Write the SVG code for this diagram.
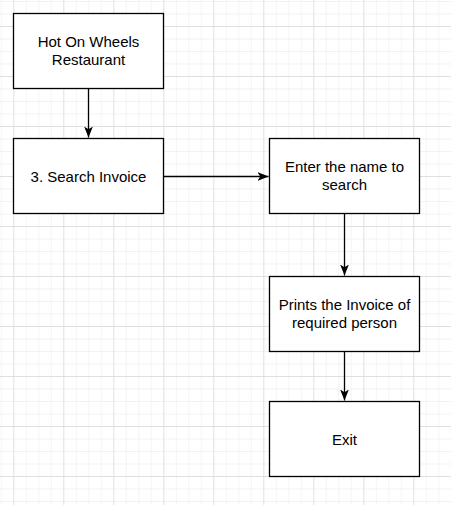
<svg xmlns="http://www.w3.org/2000/svg" width="451" height="505" viewBox="0 0 451 505">
<defs>
<pattern id="minor" x="13.3" y="1" width="12.5" height="12.5" patternUnits="userSpaceOnUse">
<path d="M0 0V12.5M0 0H12.5" fill="none" stroke="#eeeeee" stroke-width="1.25"/>
</pattern>
<pattern id="major" x="13.3" y="26" width="50" height="50" patternUnits="userSpaceOnUse">
<path d="M0 0V50M0 0H50" fill="none" stroke="#d9d9d9" stroke-width="1.25"/>
</pattern>
<marker id="arr" viewBox="0 0 10 10" refX="10" refY="5" markerWidth="11" markerHeight="11" markerUnits="userSpaceOnUse" orient="auto">
<path d="M0 1L10 5L0 9L2.5 5Z" fill="#000"/>
</marker>
</defs>
<style>
.box{fill:#fff;stroke:#000;stroke-width:1.3}
.lbl{font-family:"Liberation Sans",Arial,sans-serif;font-size:15px;fill:#000;text-anchor:middle}
.edge{fill:none;stroke:#000;stroke-width:1.3}
</style>
<rect width="451" height="505" fill="#fff"/>
<rect width="451" height="505" fill="url(#minor)"/>
<rect width="451" height="505" fill="url(#major)"/>
<g id="connectors">
<path class="edge" d="M88.5 88.5V137.5" marker-end="url(#arr)"/>
<path class="edge" d="M163.5 176.5H268.5" marker-end="url(#arr)"/>
<path class="edge" d="M344.5 213.5V275.5" marker-end="url(#arr)"/>
<path class="edge" d="M344.5 351.5V400.5" marker-end="url(#arr)"/>
</g>
<g id="node1">
<rect class="box" x="13.5" y="13.5" width="150" height="75"/>
<text class="lbl" x="88.5" y="47">Hot On Wheels</text>
<text class="lbl" x="88.5" y="65">Restaurant</text>
</g>
<g id="node2">
<rect class="box" x="13.5" y="138.5" width="150" height="75"/>
<text class="lbl" x="88.5" y="181.5">3. Search Invoice</text>
</g>
<g id="node3">
<rect class="box" x="269.5" y="138.5" width="150" height="75"/>
<text class="lbl" x="344.5" y="172">Enter the name to</text>
<text class="lbl" x="344.5" y="190">search</text>
</g>
<g id="node4">
<rect class="box" x="269.5" y="276.5" width="150" height="75"/>
<text class="lbl" x="344.5" y="310">Prints the Invoice of</text>
<text class="lbl" x="344.5" y="328">required person</text>
</g>
<g id="node5">
<rect class="box" x="269.5" y="401.5" width="150" height="75"/>
<text class="lbl" x="344.5" y="444.5">Exit</text>
</g>
</svg>
